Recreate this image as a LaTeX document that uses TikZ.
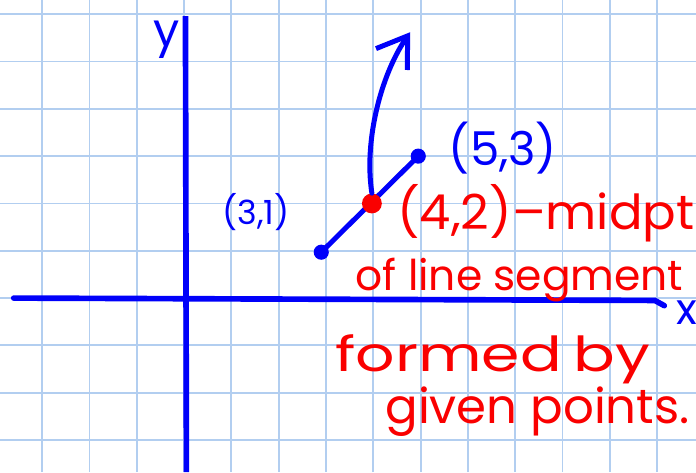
\documentclass[tikz,border=0pt]{standalone}
\usepackage{fontspec}
\setmainfont{Poppins}
\usetikzlibrary{arrows.meta}
\definecolor{inkblue}{RGB}{0,0,250}
\definecolor{inkred}{RGB}{250,0,0}
\definecolor{gridblue}{RGB}{178,206,240}
\begin{document}
\begin{tikzpicture}[
    >=stealth,
    gridline/.style={
        draw=gridblue,
        line width=1.1pt
    },
    axis/.style={
        draw=inkblue,
        line width=3.4pt,
        line cap=round
    },
    ink/.style={
        draw=inkblue,
        line width=3pt,
        line cap=round
    },
    endpt/.style={
        circle,
        fill=inkblue,
        inner sep=0pt,
        minimum size=3.2mm
    },
    middot/.style={
        circle,
        fill=inkred,
        inner sep=0pt,
        minimum size=4.2mm
    },
    bluetxt/.style={
        text=inkblue,
        inner sep=0pt
    },
    redtxt/.style={
        text=inkred,
        inner sep=0pt,
        anchor=base west
    }
]
    \fill[white] (-3.89,-3.68) rectangle (10.82,6.30);
    \useasboundingbox (-3.89,-3.68) rectangle (10.82,6.30);
    \draw[gridline] (-3.89,-3.68) grid (10.82,6.30);

    \coordinate (xleft) at (-3.6,0);
    \coordinate (xright) at (10.15,-0.16);
    \coordinate (ytop) at (0.03,5.96);
    \coordinate (ybottom) at (0.05,-3.68);
    \draw[axis] (xleft) -- (9.95,-0.05) -- (xright);
    \draw[axis, line cap=butt] (ytop) -- (ybottom);

    \node[bluetxt, font=\fontsize{28}{30}\selectfont] (ylabel) at (-0.36,5.45) {y};
    \node[bluetxt, font=\fontsize{26}{30}\selectfont] (xlabel) at (10.62,-0.3) {x};

    \node[endpt] (p31) at (2.9,0.97) {};
    \node[endpt] (p53) at (4.95,3.0) {};
    \draw[ink] (p31.center) -- (p53.center);
    \node[middot] (mid) at (3.97,2.0) {};

    \coordinate (tip) at (4.78,5.62);
    \draw[ink, -{Straight Barb[length=6mm,width=8mm]}] (mid.north)
        .. controls (3.8,3.3) and (4.15,4.7) .. (tip);

    \node[bluetxt, font=\fontsize{20}{24}\selectfont] (lab31) at (1.52,1.82) {(3,1)};
    \node[bluetxt, font=\fontsize{28}{30}\selectfont] (lab53) at (6.74,3.17) {(5,3)};

    \node[redtxt, font=\fontsize{29}{32}\selectfont\addfontfeature{FakeStretch=1.03}]
        (line1) at (4.5,1.44) {(4,2)–midpt};
    \node[redtxt, font=\fontsize{25.5}{30}\selectfont]
        (line2) at (3.62,0.17) {of line segment};
    \node[redtxt, font=\fontsize{29}{32}\selectfont\addfontfeature{FakeStretch=1.28}]
        (line3) at (3.19,-1.56) {formed\hspace{0.25em}by};
    \node[redtxt, font=\fontsize{29}{32}\selectfont]
        (line4) at (4.25,-2.66) {given points.};

\end{tikzpicture}
\end{document}
